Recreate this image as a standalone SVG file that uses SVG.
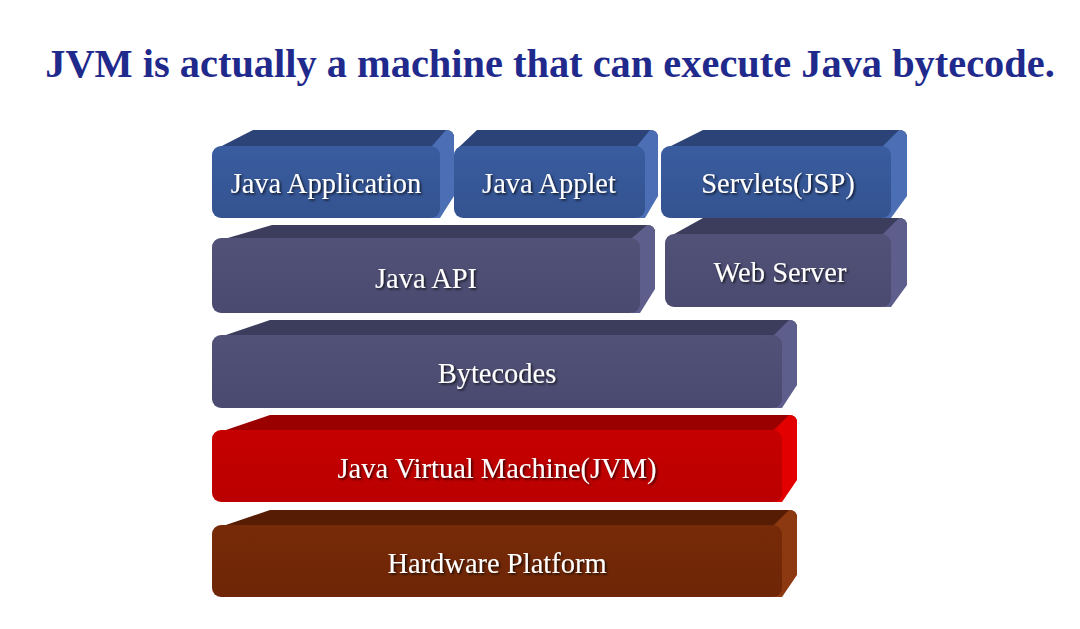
<svg xmlns="http://www.w3.org/2000/svg" width="1080" height="629" viewBox="0 0 1080 629">
<style>
.title{font-family:"Liberation Serif","Times New Roman",serif;font-weight:bold;font-size:40.4px;fill:#1F2A8C}
.lbl{font-family:"Liberation Serif","Times New Roman",serif;font-size:28.5px;fill:#ffffff;text-anchor:middle;filter:url(#sh)}
.bT{fill:#2C4377}.bS{fill:#4B6EB5}.bF{fill:url(#gb)}
.pT{fill:#3C3C5C}.pS{fill:#5E5E8C}.pF{fill:url(#gp)}
.rT{fill:#9A0000}.rS{fill:#E20000}.rF{fill:url(#gr)}
.hT{fill:#561C04}.hS{fill:#8C3810}.hF{fill:url(#gh)}
</style>
<defs>
<filter id="sh" x="-10%" y="-30%" width="130%" height="170%"><feDropShadow dx="1.5" dy="1.5" stdDeviation="0.8" flood-color="#000" flood-opacity="0.75"/></filter>
<linearGradient id="gb" x1="0" y1="0" x2="0" y2="1"><stop offset="0" stop-color="#3A5DA0"/><stop offset="1" stop-color="#33528F"/></linearGradient>
<linearGradient id="gp" x1="0" y1="0" x2="0" y2="1"><stop offset="0" stop-color="#525279"/><stop offset="1" stop-color="#4A4A70"/></linearGradient>
<linearGradient id="gr" x1="0" y1="0" x2="0" y2="1"><stop offset="0" stop-color="#C60000"/><stop offset="1" stop-color="#BA0000"/></linearGradient>
<linearGradient id="gh" x1="0" y1="0" x2="0" y2="1"><stop offset="0" stop-color="#772A08"/><stop offset="1" stop-color="#6E2606"/></linearGradient>
</defs>
<rect width="1080" height="629" fill="#ffffff"/>
<text class="title" x="550" y="77" text-anchor="middle">JVM is actually a machine that can execute Java bytecode.</text>

<g id="java-application">
<path class="bT" d="M214,150 L253,130 L446,130 Q454,130 454,138 L440,150 Z"/>
<path class="bS" d="M432,146 L446,130 Q454,130 454,138 L454,196 L440,218 L432,218 Z"/>
<rect class="bF" x="212" y="146" width="228" height="72" rx="9"/>
<text class="lbl" x="326" y="193">Java Application</text>
</g>
<g id="java-applet">
<path class="bT" d="M456,150 L477,130 L650,130 Q658,130 658,138 L645,150 Z"/>
<path class="bS" d="M637,146 L650,130 Q658,130 658,138 L658,196 L645,218 L637,218 Z"/>
<rect class="bF" x="454" y="146" width="191" height="72" rx="9"/>
<text class="lbl" x="549" y="193">Java Applet</text>
</g>
<g id="servlets">
<path class="bT" d="M663,150 L703,130 L899,130 Q907,130 907,138 L891,150 Z"/>
<path class="bS" d="M883,146 L899,130 Q907,130 907,138 L907,196 L891,218 L883,218 Z"/>
<rect class="bF" x="661" y="146" width="230" height="72" rx="9"/>
<text class="lbl" x="778" y="193">Servlets(JSP)</text>
</g>
<g id="web-server">
<path class="pT" d="M667,238 L703,218 L899,218 Q907,218 907,226 L891,238 Z"/>
<path class="pS" d="M883,234 L899,218 Q907,218 907,226 L907,285 L891,307 L883,307 Z"/>
<rect class="pF" x="665" y="234" width="226" height="73" rx="9"/>
<text class="lbl" x="780" y="282">Web Server</text>
</g>
<g id="java-api">
<path class="pT" d="M214,242 L272,225 L647,225 Q655,225 655,233 L640,242 Z"/>
<path class="pS" d="M632,238 L647,225 Q655,225 655,233 L655,289 L640,313 L632,313 Z"/>
<rect class="pF" x="212" y="238" width="428" height="75" rx="9"/>
<text class="lbl" x="426" y="288">Java API</text>
</g>
<g id="bytecodes">
<path class="pT" d="M214,339 L270,320 L789,320 Q797,320 797,328 L782,339 Z"/>
<path class="pS" d="M774,335 L789,320 Q797,320 797,328 L797,385 L782,408 L774,408 Z"/>
<rect class="pF" x="212" y="335" width="570" height="73" rx="9"/>
<text class="lbl" x="497" y="383">Bytecodes</text>
</g>
<g id="jvm">
<path class="rT" d="M214,434 L270,415 L789,415 Q797,415 797,423 L782,434 Z"/>
<path class="rS" d="M774,430 L789,415 Q797,415 797,423 L797,480 L782,502 L774,502 Z"/>
<rect class="rF" x="212" y="430" width="570" height="72" rx="9"/>
<text class="lbl" x="497" y="478">Java Virtual Machine(JVM)</text>
</g>
<g id="hardware">
<path class="hT" d="M214,529 L270,510 L789,510 Q797,510 797,518 L782,529 Z"/>
<path class="hS" d="M774,525 L789,510 Q797,510 797,518 L797,575 L782,597 L774,597 Z"/>
<rect class="hF" x="212" y="525" width="570" height="72" rx="9"/>
<text class="lbl" x="497" y="573">Hardware Platform</text>
</g>
<g id="connectors"/>
</svg>
